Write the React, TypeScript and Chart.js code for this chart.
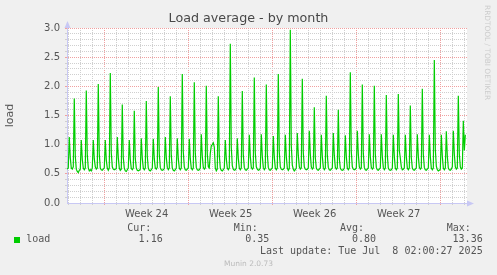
import React, { useEffect, useRef } from 'react';
import { Chart, registerables } from 'chart.js';

Chart.register(...registerables);

// ---- data ----------------------------------------------------------------
// 2-hour samples of the load average; x is measured in days from Monday 9 June 00:00 (start of week 24)
const FIRST_SAMPLE_DAY = -3.1167;
const SAMPLE_STEP_DAYS = 1 / 12;

const LOAD_JUN_06_08 = [
  0.58, 0.6,
  1.13, 0.78, 0.6, 0.58, 0.62, 1.79, 0.8, 0.58, 0.54, 0.52, 0.56, 0.58,
  1.08, 0.75, 0.6, 0.57, 0.6, 1.93, 0.82, 0.6, 0.55, 0.57, 0.55, 0.6,
  1.08, 0.76, 0.62, 0.58, 0.6, 2.04, 0.84, 0.6, 0.57, 0.56, 0.58, 0.6,
];
const LOAD_WEEK_24 = [
  1.08, 0.74, 0.6, 0.56, 0.6, 2.23, 0.86, 0.62, 0.58, 0.57, 0.58, 0.59,
  1.13, 0.78, 0.6, 0.56, 0.58, 1.69, 0.78, 0.6, 0.55, 0.54, 0.57, 0.6,
  1.08, 0.75, 0.59, 0.57, 0.6, 1.58, 0.76, 0.6, 0.56, 0.55, 0.56, 0.58,
  1.11, 0.77, 0.6, 0.57, 0.6, 1.75, 0.8, 0.6, 0.56, 0.55, 0.57, 0.6,
  1.1, 0.76, 0.6, 0.58, 0.61, 1.99, 0.84, 0.61, 0.57, 0.56, 0.57, 0.59,
  1.13, 0.78, 0.61, 0.57, 0.6, 1.83, 0.82, 0.6, 0.56, 0.55, 0.57, 0.6,
  1.11, 0.76, 0.6, 0.57, 0.6, 2.21, 0.88, 0.62, 0.57, 0.56, 0.58, 0.6,
];
const LOAD_WEEK_25 = [
  1.1, 0.76, 0.6, 0.57, 0.6, 2.07, 0.85, 0.61, 0.57, 0.56, 0.57, 0.6,
  1.18, 0.8, 0.61, 0.58, 0.6, 2.01, 0.84, 0.62, 0.6, 0.85, 0.98, 1.0,
  1.03, 0.96, 0.6, 0.55, 0.58, 1.83, 0.82, 0.6, 0.56, 0.55, 0.57, 0.6,
  1.08, 0.76, 0.6, 0.57, 0.6, 2.73, 0.95, 0.64, 0.58, 0.56, 0.57, 0.6,
  1.11, 0.77, 0.6, 0.57, 0.6, 1.92, 0.83, 0.61, 0.57, 0.56, 0.58, 0.6,
  1.17, 0.8, 0.61, 0.58, 0.6, 2.15, 0.86, 0.62, 0.58, 0.56, 0.57, 0.6,
  1.18, 0.8, 0.61, 0.57, 0.6, 2.03, 0.84, 0.61, 0.57, 0.56, 0.58, 0.6,
];
const LOAD_WEEK_26 = [
  1.15, 0.79, 0.6, 0.57, 0.6, 2.21, 0.87, 0.62, 0.58, 0.57, 0.58, 0.6,
  1.17, 0.8, 0.6, 0.56, 0.59, 2.97, 0.98, 0.65, 0.58, 0.55, 0.57, 0.6,
  1.2, 0.82, 0.62, 0.58, 0.6, 2.13, 0.86, 0.62, 0.58, 0.57, 0.58, 0.6,
  1.24, 0.84, 0.62, 0.58, 0.6, 1.64, 0.78, 0.6, 0.57, 0.56, 0.58, 0.6,
  1.17, 0.8, 0.61, 0.57, 0.6, 1.84, 0.82, 0.61, 0.57, 0.56, 0.58, 0.6,
  1.2, 0.82, 0.61, 0.58, 0.6, 1.6, 0.76, 0.6, 0.57, 0.56, 0.57, 0.6,
  1.16, 0.8, 0.6, 0.57, 0.6, 2.24, 0.88, 0.62, 0.58, 0.57, 0.58, 0.6,
];
const LOAD_WEEK_27 = [
  1.24, 0.84, 0.62, 0.58, 0.6, 2.03, 0.85, 0.61, 0.57, 0.56, 0.58, 0.6,
  1.18, 0.8, 0.61, 0.58, 0.6, 2.01, 0.84, 0.61, 0.57, 0.56, 0.58, 0.6,
  1.18, 0.8, 0.61, 0.57, 0.6, 1.85, 0.82, 0.6, 0.57, 0.56, 0.57, 0.6,
  1.17, 0.8, 0.6, 0.57, 0.6, 1.87, 0.9, 0.77, 0.62, 0.57, 0.58, 0.6,
  1.17, 0.8, 0.6, 0.57, 0.6, 1.67, 0.78, 0.6, 0.57, 0.56, 0.58, 0.6,
  1.18, 0.8, 0.61, 0.58, 0.6, 1.96, 0.84, 0.61, 0.57, 0.56, 0.58, 0.6,
  1.17, 0.8, 0.6, 0.57, 0.6, 2.45, 0.92, 0.63, 0.57, 0.55, 0.56, 0.58,
];
const LOAD_WEEK_28 = [
  1.17, 0.8, 0.6, 0.57, 0.6, 1.23, 0.8, 0.6, 0.57, 0.56, 0.58, 0.62,
  1.24, 0.84, 0.62, 0.58, 0.6, 1.84, 0.84, 0.62, 0.58, 0.6, 1.41, 0.9,
  1.17,
];

const WEEK_LABELS = ['Week 24', 'Week 25', 'Week 26', 'Week 27'];
const WEEK_LABEL_DAYS = [3.5, 10.5, 17.5, 24.5];
const WEEK_START_DAYS = [0, 7, 14, 21, 28];
const X_MIN_DAY = -3.14;
const X_MAX_DAY = 30.19;

const Y_TICK_VALUES = [0, 0.5, 1, 1.5, 2, 2.5, 3];
const Y_TICK_LABELS = ['0.0', '0.5', '1.0', '1.5', '2.0', '2.5', '3.0'];
const Y_MINOR_STEP = 0.1;

const TITLE = 'Load average - by month';
const Y_TITLE = 'load';
const SERIES_NAME = 'load';
const STAT_HEADS = ['Cur:', 'Min:', 'Avg:', 'Max:'];
const STAT_VALUES = ['1.16', '0.35', '0.80', '13.36'];
const LAST_UPDATE = 'Last update: Tue Jul  8 02:00:27 2025';
const MUNIN_VERSION = 'Munin 2.0.73';
const WATERMARK = 'RRDTOOL / TOBI OETIKER';

// ---- styles ----------------------------------------------------------------
const LINE_COLOR = '#00cc00';
const GRID_MINOR = '#cfcfcf';
const GRID_MAJOR = '#f0a0a0';
const AXIS_COLOR = '#c8c8f4';
const TEXT_COLOR = '#555555';

const near = (a: number, b: number) => Math.abs(a - b) < 1e-6;

const framePlugin = {
  id: 'frame',
  beforeDraw(chart: any) {
    const { ctx, chartArea } = chart;
    ctx.save();
    ctx.fillStyle = '#f0f0f0';
    ctx.fillRect(0, 0, chart.width, chart.height);
    ctx.fillStyle = '#ffffff';
    ctx.fillRect(chartArea.left, chartArea.top, chartArea.right - chartArea.left, chartArea.bottom - chartArea.top);
    ctx.restore();
  },
  afterDraw(chart: any) {
    const { ctx, chartArea } = chart;
    const l = chartArea.left + 0.5;
    const b = chartArea.bottom + 0.5;
    ctx.save();
    ctx.fillStyle = AXIS_COLOR;
    ctx.beginPath();
    ctx.moveTo(l, chartArea.top - 7);
    ctx.lineTo(l - 3, chartArea.top);
    ctx.lineTo(l + 3, chartArea.top);
    ctx.closePath();
    ctx.fill();
    ctx.beginPath();
    ctx.moveTo(chartArea.right + 7, b);
    ctx.lineTo(chartArea.right, b - 3);
    ctx.lineTo(chartArea.right, b + 3);
    ctx.closePath();
    ctx.fill();
    ctx.restore();
  },
};

export default function App() {
  const ref = useRef<HTMLCanvasElement>(null);

  useEffect(() => {
    const canvas = ref.current;
    if (!canvas) return;
    const samples = [
      ...LOAD_JUN_06_08,
      ...LOAD_WEEK_24,
      ...LOAD_WEEK_25,
      ...LOAD_WEEK_26,
      ...LOAD_WEEK_27,
      ...LOAD_WEEK_28,
    ];
    const points = samples.map((v, i) => ({ x: FIRST_SAMPLE_DAY + i * SAMPLE_STEP_DAYS, y: v }));

    const xTickValues: number[] = [];
    for (let d = Math.ceil(X_MIN_DAY); d <= Math.floor(X_MAX_DAY); d++) xTickValues.push(d);
    WEEK_LABEL_DAYS.forEach((d) => xTickValues.push(d));
    xTickValues.sort((a, b) => a - b);

    const yTickValues: number[] = [];
    const yCount = Math.round(Y_TICK_VALUES[Y_TICK_VALUES.length - 1] / Y_MINOR_STEP);
    for (let i = 0; i <= yCount; i++) yTickValues.push(Math.round(i * Y_MINOR_STEP * 10) / 10);

    const chart = new Chart(canvas, {
      type: 'line',
      data: {
        datasets: [
          {
            label: SERIES_NAME,
            data: points,
            borderColor: LINE_COLOR,
            borderWidth: 1.2,
            pointRadius: 0,
            tension: 0,
            fill: false,
          },
        ],
      },
      options: {
        animation: false,
        responsive: false,
        devicePixelRatio: 1,
        events: [],
        layout: { padding: { left: 0, right: 0, top: 0, bottom: 0 } },
        plugins: {
          legend: { display: false },
          tooltip: { enabled: false },
          title: {
            display: true,
            text: TITLE,
            color: '#484848',
            font: { family: 'DejaVu Sans', size: 12.7, weight: 'normal', lineHeight: 1.2 },
            padding: { top: 11.4, bottom: 1.36 },
          },
        },
        scales: {
          x: {
            type: 'linear',
            min: X_MIN_DAY,
            max: X_MAX_DAY,
            afterBuildTicks: (scale: any) => {
              scale.ticks = xTickValues.map((v) => ({ value: v }));
            },
            afterFit: (scale: any) => {
              scale.height = 72;
            },
            grid: {
              color: (ctx: any) => {
                const v = ctx.tick ? ctx.tick.value : null;
                if (v === null || v === undefined) return 'transparent';
                if (WEEK_LABEL_DAYS.some((w) => near(w, v))) return 'transparent';
                if (WEEK_START_DAYS.some((w) => near(w, v))) return GRID_MAJOR;
                return GRID_MINOR;
              },
              lineWidth: 1,
              drawTicks: true,
              tickLength: 2,
            },
            border: { display: true, color: AXIS_COLOR, width: 1, dash: [1, 1] },
            ticks: {
              autoSkip: false,
              maxRotation: 0,
              minRotation: 0,
              padding: 3,
              color: TEXT_COLOR,
              font: { family: 'DejaVu Sans', size: 10 },
              callback: (value: any) => {
                const idx = WEEK_LABEL_DAYS.findIndex((w) => near(w, Number(value)));
                return idx >= 0 ? WEEK_LABELS[idx] : '';
              },
            },
          },
          y: {
            type: 'linear',
            position: 'left',
            min: Y_TICK_VALUES[0],
            max: Y_TICK_VALUES[Y_TICK_VALUES.length - 1],
            afterBuildTicks: (scale: any) => {
              scale.ticks = yTickValues.map((v) => ({ value: v }));
            },
            afterFit: (scale: any) => {
              scale.width = 67;
            },
            grid: {
              color: (ctx: any) => {
                const v = ctx.tick ? ctx.tick.value : null;
                if (v === null || v === undefined || near(v, 0)) return 'transparent';
                if (Y_TICK_VALUES.some((t) => near(t, v))) return GRID_MAJOR;
                return GRID_MINOR;
              },
              lineWidth: 1,
              drawTicks: true,
              tickLength: 2,
            },
            border: { display: true, color: AXIS_COLOR, width: 1, dash: [1, 1] },
            ticks: {
              autoSkip: false,
              padding: 5,
              color: TEXT_COLOR,
              font: { family: 'DejaVu Sans', size: 10 },
              callback: (value: any) => {
                const idx = Y_TICK_VALUES.findIndex((t) => near(t, Number(value)));
                return idx >= 0 ? Y_TICK_LABELS[idx] : '';
              },
            },
            title: {
              display: true,
              text: Y_TITLE,
              color: TEXT_COLOR,
              font: { family: 'DejaVu Sans', size: 11 },
              padding: { top: 4, bottom: 0 },
            },
          },
          yRight: {
            type: 'linear',
            position: 'right',
            min: Y_TICK_VALUES[0],
            max: Y_TICK_VALUES[Y_TICK_VALUES.length - 1],
            afterFit: (scale: any) => {
              scale.width = 30;
            },
            grid: { display: false, drawOnChartArea: false },
            border: { display: false },
            ticks: { display: false },
          },
        },
      } as any,
      plugins: [framePlugin],
    });
    return () => chart.destroy();
  }, []);

  const mono: React.CSSProperties = {
    position: 'absolute',
    fontFamily: '"DejaVu Sans Mono", monospace',
    fontSize: '10px',
    lineHeight: '12px',
    color: TEXT_COLOR,
    whiteSpace: 'pre',
  };
  const headLefts = [127.3, 233.7, 340, 446.7];
  const valueRights = [162.7, 269.3, 376, 482.7];

  return (
    <div
      style={{
        position: 'fixed',
        left: 0,
        top: 0,
        width: 497,
        height: 275,
        background: '#f0f0f0',
        overflow: 'hidden',
      }}
    >
      <canvas ref={ref} width={497} height={275} style={{ position: 'absolute', left: 0, top: 0, width: 497, height: 275 }} />
      {STAT_HEADS.map((h, i) => (
        <div key={h} style={{ ...mono, left: headLefts[i], top: 221.7 }}>
          {h}
        </div>
      ))}
      <div style={{ position: 'absolute', left: 14, top: 237, width: 6, height: 6, background: LINE_COLOR }} />
      <div style={{ ...mono, left: 26.3, top: 233.3 }}>{SERIES_NAME}</div>
      {STAT_VALUES.map((v, i) => (
        <div key={i} style={{ ...mono, left: valueRights[i] - 100, width: 100, textAlign: 'right', top: 233.3 }}>
          {v}
        </div>
      ))}
      <div style={{ ...mono, left: 182.7, width: 300, textAlign: 'right', top: 245.3 }}>{LAST_UPDATE}</div>
      <div
        style={{
          position: 'absolute',
          left: 0,
          width: 497,
          top: 259,
          textAlign: 'center',
          fontFamily: '"DejaVu Sans", sans-serif',
          fontSize: '7.5px',
          lineHeight: '10px',
          color: '#bbbbbb',
        }}
      >
        {MUNIN_VERSION}
      </div>
      <div
        style={{
          position: 'absolute',
          left: 483,
          top: 5,
          writingMode: 'vertical-rl',
          fontFamily: '"DejaVu Sans", sans-serif',
          fontSize: '7.4px',
          lineHeight: '8px',
          color: '#cccccc',
          whiteSpace: 'pre',
        }}
      >
        {WATERMARK}
      </div>
    </div>
  );
}
